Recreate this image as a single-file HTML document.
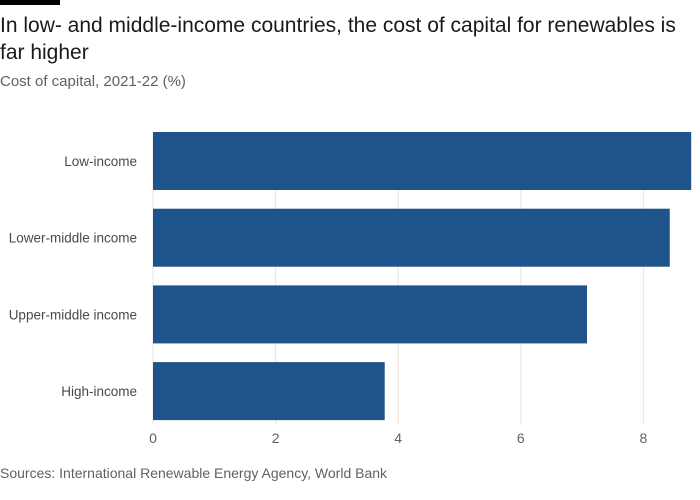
<!DOCTYPE html>
<html><head><meta charset="utf-8"><style>
body{margin:0;width:700px;height:500px;background:#fff;font-family:"Liberation Sans",sans-serif;position:relative;overflow:hidden}
.t{position:absolute;left:0;color:#1a1a1a}
</style></head><body>
<div style="position:absolute;left:0;top:0;width:60px;height:5px;background:#000"></div>
<div class="t" style="top:12px;font-size:21px;line-height:27px;width:690px">In low- and middle-income countries, the cost of capital for renewables is far higher</div>
<div class="t" style="top:73px;font-size:15px;color:#66605c">Cost of capital, 2021-22 (%)</div>
<svg id="c" width="700" height="500" style="position:absolute;left:0;top:0"></svg>
<div class="t" style="top:465px;font-size:14px;color:#66605c">Sources: International Renewable Energy Agency, World Bank</div>
<script>
const categories=["Low-income","Lower-middle income","Upper-middle income","High-income"];
const values=[8.78,8.43,7.08,3.78];
const ticks=[0,2,4,6,8];
const svg=document.getElementById('c');
const NS="http://www.w3.org/2000/svg";
const x0=153,ppu=61.3,top0=132,band=76.7,bh=58;
const X=v=>x0+v*ppu;
function mk(t,a){const e=document.createElementNS(NS,t);for(const k in a)e.setAttribute(k,a[k]);svg.appendChild(e);return e;}
ticks.forEach(t=>{
 const g=mk('line',{x1:X(t),x2:X(t),y1:top0,y2:425,stroke:'#e9e3de','stroke-width':1});
 
 
 const l=mk('text',{x:X(t),y:443,'text-anchor':'middle','font-size':14,fill:'#66605c','font-family':'Liberation Sans, sans-serif'});
 l.textContent=t;
 
 
});
categories.forEach((c,i)=>{
 const y=top0+i*band;
 const r=mk('rect',{x:X(0),y:y,width:X(values[i])-X(0),height:bh,fill:'#1f538b'});
 
 
 const l=mk('text',{x:137,y:y+bh/2+5,'text-anchor':'end','font-size':13.5,fill:'#4d4845','font-family':'Liberation Sans, sans-serif'});
 l.textContent=c;
 
 
});
</script>
</body></html>
